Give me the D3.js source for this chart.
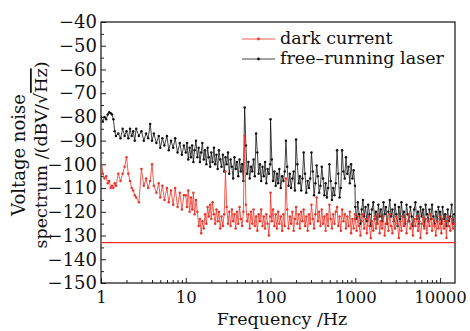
<!DOCTYPE html>
<html>
<head>
<meta charset="utf-8">
<script src="https://cdn.jsdelivr.net/npm/d3@7"></script>
<style>
  body { margin: 0; background: #fff; }
  text { font-family: "DejaVu Serif", serif; fill: #111; }
</style>
</head>
<body>
<svg id="chart" width="470" height="331"></svg>
<script>
// frequency sampling: 1-10 Hz grid, then a finer grid repeated per decade
const lowFreq = [1,1.05,1.1,1.15,1.2,1.25,1.3,1.35,1.4,1.45,1.5,1.6,1.7,1.8,1.9,2,2.1,2.2,2.3,2.4,2.5,2.6,2.8,3,3.2,3.4,3.6,3.8,4,4.2,4.5,4.8,5,5.3,5.6,6,6.3,6.7,7.1,7.5,8,8.5,9,9.5]
const mant = [1,1.035,1.07,1.11,1.15,1.19,1.23,1.27,1.32,1.37,1.42,1.47,1.52,1.57,1.63,1.69,1.75,1.81,1.87,1.94,
  2,2.07,2.15,2.22,2.3,2.38,2.46,2.55,2.64,2.74,2.84,2.94,3.04,3.15,3.26,3.38,3.5,3.62,3.75,3.88,
  4.02,4.16,4.31,4.46,4.62,4.78,4.95,5.12,5.3,5.49,5.68,5.88,6.09,6.3,6.52,6.75,6.99,7.24,7.5,7.76,
  8.04,8.32,8.62,8.92,9.24,9.56,9.9]
const decades = [10,100,1000]
const topMant = [1,1.035,1.07,1.11,1.15,1.19,1.23,1.27,1.32,1.37,1.42,1.47] // x 10000

// free-running laser, dBV/sqrt(Hz), one array per decade
const laser1 = [-80,-82,-80,-81,-79,-78,-78.5,-79,-81,-86,-88,-87,-89,-85,-88,-86,-89,-85,-88,-86,-90,-85,-88,-86,-90,-87,-89,-83,-90,-87,-91,-88,-93,-89,-92,-88,-94,-90,-93,-89,-95,-91,-96,-92]
const laser2 = [-95,-91,-98,-93,-97,-92,-99,-94,-90,-97, -93,-99,-95,-91,-98,-94,-100,-93,-97,-101,
  -95,-99,-93,-100,-96,-102,-94,-98,-101,-96, -103,-97,-100,-95,-104,-98,-101,-106,-97,-102,
  -99,-105,-98,-103,-100,-107,-76,-92,-104,-99, -106,-101,-103,-98,-105,-87,-95,-104,-100,-107,
  -101,-105,-99,-108,-102,-104,-100]
const laser3 = [-81,-98,-107,-103,-109,-104,-108,-102,-110,-105, -107,-103,-90,-101,-109,-104,-110,-106,-103,-111,
  -89.5,-100,-108,-105,-111,-106,-95,-104,-112,-107, -110,-106,-95,-103,-113,-108,-100.5,-105,-112,-109,
  -101,-106,-113,-108,-114,-110,-100,-107,-115,-110, -113,-108,-94,-104,-114,-110,-94,-103,-106,-97,
  -104,-101,-108,-100,-106,-102.5,-109]
const laser4 = [-118,-123,-116,-121,-125,-119,-115,-122,-118,-124, -117,-121,-126,-119,-116,-123,-120,-125,-117,-122,
  -119,-124,-116,-121,-118,-125,-120,-115,-122,-119, -124,-117,-121,-126,-118,-123,-116,-122,-120,-125,
  -117,-121,-124,-118,-122,-126,-119,-116,-123,-120, -125,-118,-122,-119,-126,-117,-121,-124,-119,-123,
  -117,-122,-125,-120,-124,-118,-123]
const laser5 = [-120,-125,-118,-123,-121,-126,-119,-124,-122,-117,-125,-121]

// dark current
const dark1 = [-97,-104,-106,-105,-108,-107,-110,-109,-110,-108,-109,-104,-107,-104,-101,-97,-104,-107,-110,-111,-113,-114,-116,-102,-109,-106,-110,-107,-100,-109,-112,-108,-114,-109,-115,-110,-116,-111,-117,-110,-118,-112,-119,-113]
const dark2 = [-113,-118,-111,-120,-114,-119,-112,-121,-115,-120, -126,-123,-129,-124,-127,-121,-125,-118,-122,-117,
  -123,-116,-121,-125,-119,-124,-120,-127,-122,-126, -121,-103,-118,-125,-120,-126,-119,-124,-121,-127,
  -120,-125,-118,-123,-126,-120,-88,-117,-124,-121, -127,-120,-125,-119,-126,-122,-128,-121,-124,-119,
  -126,-122,-127,-121,-125,-130,-122]
const dark3 = [-112,-124,-119,-126,-121,-127,-120,-125,-122,-128, -121,-126,-106,-119,-127,-122,-125,-120,-128,-123,
  -118,-125,-121,-127,-120,-124,-119,-126,-122,-128, -121,-125,-117,-123,-127,-121,-114,-124,-120,-126,
  -119,-125,-122,-128,-121,-126,-117,-123,-127,-121, -125,-120,-118,-126,-122,-128,-119,-124,-121,-127,
  -122,-126,-120,-129,-123,-127,-121]
const dark4 = [-123,-128,-122,-126,-130,-124,-121,-127,-123,-129, -122,-126,-131,-124,-128,-122,-127,-125,-121,-129,
  -124,-127,-122,-130,-125,-123,-128,-121,-126,-129, -123,-127,-122,-125,-131,-124,-128,-122,-126,-123,
  -129,-124,-121,-127,-125,-130,-123,-126,-122,-128, -124,-131,-125,-122,-127,-123,-129,-124,-126,-121,
  -128,-123,-126,-130,-124,-127,-122]
const dark5 = [-125,-129,-123,-127,-124,-131,-122,-126,-128,-123,-127,-125]

const darkFloor = -133
const yTicks = [-40,-50,-60,-70,-80,-90,-100,-110,-120,-130,-140,-150]
const xTicks = [1,10,100,1000,10000]

const freq = lowFreq.slice()
decades.forEach(function(d){ mant.forEach(function(m){ freq.push(+(m*d).toPrecision(4)) }) })
topMant.forEach(function(m){ freq.push(m*10000) })
const laser = [].concat(laser1, laser2, laser3, laser4, laser5)
const dark = [].concat(dark1, dark2, dark3, dark4, dark5)

const margin = {left:101, top:22, right:15, bottom:48}
const W = 470, H = 331
const svg = d3.select('#chart')

const x = d3.scaleLog().domain([1,15000]).range([margin.left, W-margin.right])
const y = d3.scaleLinear().domain([-40,-150]).range([margin.top, H-margin.bottom])

const RED = '#ee3326'

// minor ticks
const yMinor = d3.range(-45,-150,-10)
const xMinor = []
xTicks.forEach(function(d){
  for (let k=2;k<10;k++){ if (d*k<15000) xMinor.push(d*k) }
})

const gx = svg.append('g').attr('transform','translate(0,'+y(-150)+')')
gx.call(d3.axisBottom(x).tickValues(xTicks).tickFormat(d3.format('d')).tickSize(-5).tickPadding(8))
gx.append('g').call(d3.axisBottom(x).tickValues(xMinor).tickFormat('').tickSize(-3))
gx.selectAll('text').style('font-size','16.5px').attr('fill','#111')

const gy = svg.append('g').attr('transform','translate('+x(1)+',0)')
gy.call(d3.axisLeft(y).tickValues(yTicks).tickSize(-5).tickPadding(4))
gy.append('g').call(d3.axisLeft(y).tickValues(yMinor).tickFormat('').tickSize(-3))
gy.selectAll('text').style('font-size','18px').attr('fill','#111')
svg.selectAll('.domain').remove()
svg.selectAll('.tick line').attr('stroke','#222').attr('stroke-width',1)

// frame
svg.append('rect')
  .attr('x',x(1)).attr('y',y(-40))
  .attr('width',x(15000)-x(1)).attr('height',y(-150)-y(-40))
  .attr('fill','none').attr('stroke','#111').attr('stroke-width',1.2)

svg.append('clipPath').attr('id','clip').append('rect')
  .attr('x',x(1)).attr('y',y(-40)).attr('width',x(15000)-x(1)).attr('height',y(-150)-y(-40))

const plot = svg.append('g').attr('clip-path','url(#clip)')

function trace(vals, color){
  const pts = freq.map(function(f,i){ return [f, vals[i]] })
  const g = plot.append('g')
  g.append('path')
    .datum(pts)
    .attr('fill','none').attr('stroke',color).attr('stroke-width',0.8)
    .attr('d', d3.line().x(function(d){return x(d[0])}).y(function(d){return y(d[1])}))
  g.selectAll('circle').data(pts).enter().append('circle')
    .attr('cx',function(d){return x(d[0])}).attr('cy',function(d){return y(d[1])})
    .attr('r',1.25).attr('fill',color)
}

trace(laser,'#111')
trace(dark,RED)

plot.append('line')
  .attr('x1',x(1)).attr('x2',x(15000))
  .attr('y1',y(darkFloor)).attr('y2',y(darkFloor))
  .attr('stroke',RED).attr('stroke-width',1.4)

// legend
const legend = [{name:'dark current', color:RED, y:39},{name:'free\u2013running laser', color:'#111', y:59}]
const lg = svg.append('g')
legend.forEach(function(d){
  lg.append('line').attr('x1',242).attr('x2',275).attr('y1',d.y).attr('y2',d.y)
    .attr('stroke',d.color).attr('stroke-width',0.8)
  lg.append('circle').attr('cx',258.5).attr('cy',d.y).attr('r',1.4).attr('fill',d.color)
  lg.append('text').attr('x',280).attr('y',d.y+5).style('font-size','17.5px').text(d.name)
})

// axis titles
svg.append('text').attr('x',(x(1)+x(15000))/2+4).attr('y',325)
  .attr('text-anchor','middle').style('font-size','17.5px').text('Frequency /Hz')

const yt = svg.append('g').attr('transform','translate(0,'+155+') rotate(-90)')
yt.append('text').attr('x',0).attr('y',25).attr('text-anchor','middle').style('font-size','18px').text('Voltage noise')
const t2 = yt.append('text').attr('x',0).attr('y',47).attr('text-anchor','middle').style('font-size','17.5px')
t2.append('tspan').text('spectrum /(dBV/\u221A')
t2.append('tspan').style('text-decoration','overline').text('Hz')
t2.append('tspan').text(')')
</script>
</body>
</html>
